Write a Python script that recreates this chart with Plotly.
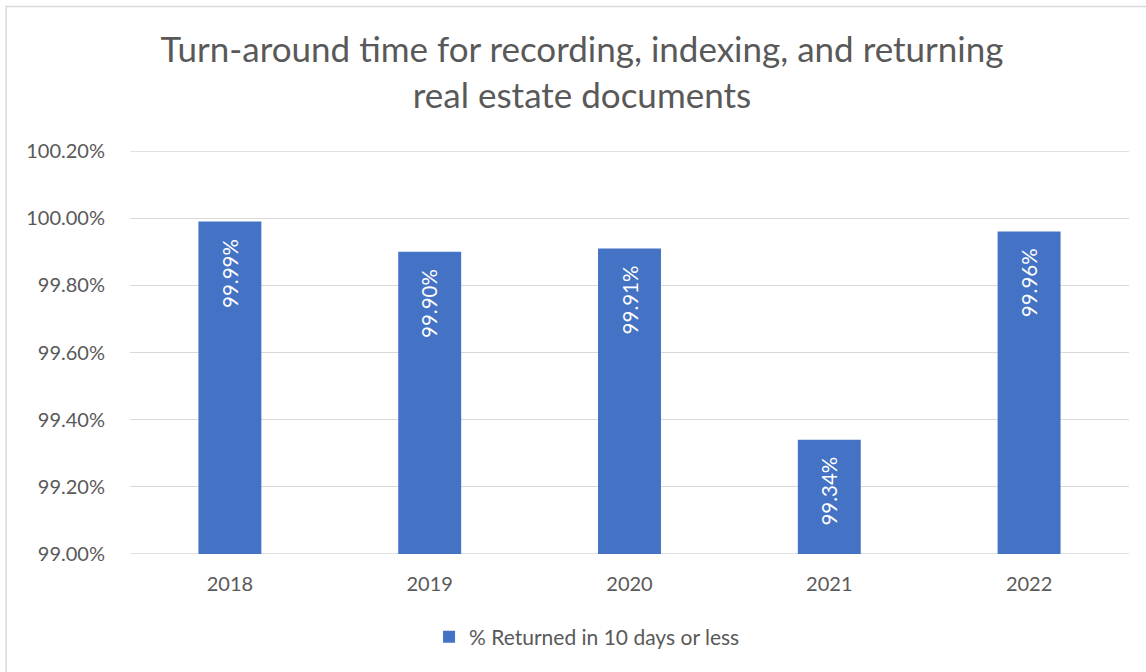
import plotly.graph_objects as go

years = ["2018", "2019", "2020", "2021", "2022"]
values = [99.99, 99.90, 99.91, 99.34, 99.96]
labels = ["99.99%", "99.90%", "99.91%", "99.34%", "99.96%"]
tick_vals = [99.0, 99.2, 99.4, 99.6, 99.8, 100.0, 100.2]
tick_text = ["99.00%", "99.20%", "99.40%", "99.60%", "99.80%", "100.00%", "100.20%"]

# body margin is removed by post_script, so figure pixels == screen pixels
W, H = 1146, 672
# target plot area on screen: x 129.5..1129.5, y 151..554
ml = 129.5
mt = 151
mr = W - 1129.5
mb = H - 554

pw = W - ml - mr
ph = H - mt - mb
def sx(x):  # screen x -> paper
    return (x - ml) / pw
def sy(y):  # screen y -> paper
    return (H - mb - y) / ph

fig = go.Figure()
fig.add_trace(go.Bar(
    x=years, y=values,
    name="% Returned in 10 days or less",
    marker=dict(color="#4472C4", line=dict(width=0)),
    width=0.315,
))

for i, (v, lab) in enumerate(zip(values, labels)):
    fig.add_annotation(x=i, y=v, xref="x", yref="y", text=lab, showarrow=False,
                       textangle=-90, yanchor="top", xanchor="center", yshift=-15,
                       font=dict(color="white", size=20.5, family="Lato"))

fig.update_layout(
    width=W, height=H,
    margin=dict(l=ml, r=mr, t=mt, b=mb, pad=0),
    paper_bgcolor="white", plot_bgcolor="white",
    title=dict(
        text="Turn-around time for recording, indexing, and returning<br>real estate documents",
        x=582 / W, xanchor="center", y=1 - 62 / H, yanchor="top",
        font=dict(family="Lato", size=35, color="#595959"),
    ),
    font=dict(family="Lato", color="#595959", size=20),
    showlegend=True,
    legend=dict(orientation="h", x=sx(587), xanchor="center", y=sy(637), yanchor="middle",
                font=dict(size=21, color="#595959")),
    xaxis=dict(type="category", range=[-0.5, len(years) - 0.5], showgrid=False,
               showline=False, ticks="", tickfont=dict(size=20), ticklabelstandoff=16),
    yaxis=dict(range=[99.0, 100.2], tickvals=tick_vals, ticktext=tick_text,
               showgrid=True, gridcolor="#D9D9D9", gridwidth=1.3, zeroline=False,
               showline=False, ticks="", ticklabelstandoff=24, tickfont=dict(size=20)),
    shapes=[
        dict(type="rect", xref="paper", yref="paper",
             x0=sx(5.5), x1=sx(W + 20),
             y0=sy(H + 20), y1=sy(6.5),
             line=dict(color="#D9D9D9", width=1.5), fillcolor="rgba(0,0,0,0)", layer="below"),
        dict(type="line", xref="paper", yref="y", x0=0, x1=1, y0=99.0, y1=99.0,
             line=dict(color="#D9D9D9", width=1.3), layer="below"),
        dict(type="line", xref="paper", yref="y", x0=0, x1=1, y0=100.2, y1=100.2,
             line=dict(color="#D9D9D9", width=1.3), layer="below"),
    ],
)

fig.write_html("out.html",
               config={"displayModeBar": False},
               post_script="document.body.style.margin='0px';document.body.style.overflow='hidden';")
